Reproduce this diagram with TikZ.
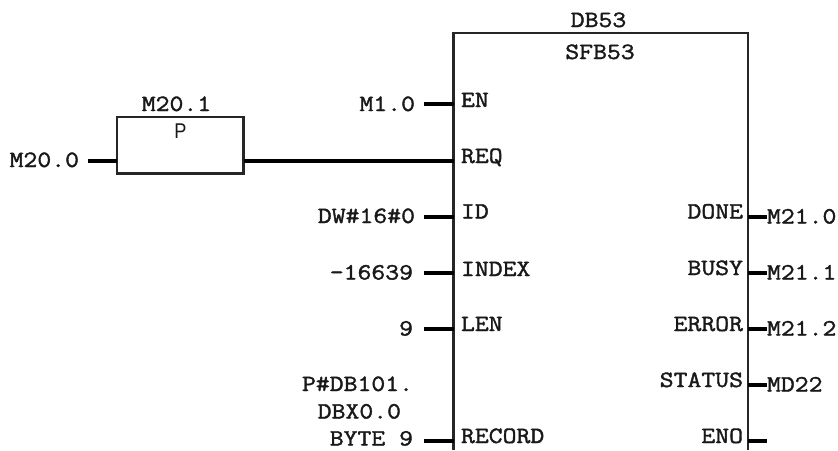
\documentclass[tikz,border=0pt]{standalone}
\usepackage{fontspec}
\newfontfamily\plcfont[FakeStretch=1.155,FakeBold=1.6]{Latin Modern Mono}
\newfontfamily\plcsans{Liberation Sans}
\tikzset{
  lbl/.style={inner sep=0pt,outer sep=0pt,font=\plcfont\fontsize{17.5}{20}\selectfont,text=black!90},
  wire/.style={line width=3pt,draw=black},
  boxline/.style={line width=1.6pt,draw=black!85},
  fbd/.style={boxline,fill=white,minimum width=94.9pt,minimum height=42.4pt,inner sep=0pt,outer sep=0pt}
}
\begin{document}
\begin{tikzpicture}[x=0.75pt,y=-0.75pt]
\useasboundingbox[fill=white] (0,0) rectangle (838,450);
% main block outline (runs off the bottom edge)
\coordinate (tl) at (453.5,33);
\coordinate (tr) at (748,33);
\coordinate (bl) at (453.5,450);
\coordinate (br) at (748,450);
\draw[boxline] (bl) -- (tl) -- (tr) -- (br);
% edge flag
\node[fbd,anchor=north west] (edge) at (117,117) {};
\node[inner sep=0pt,font=\plcsans\fontsize{16}{18}\selectfont,anchor=base,text=black!90,xscale=0.85] (ptxt) at (180.5,138.5) {P};
\node[lbl,anchor=base] (m201) at (176.5,111) {M20.1};
\node[lbl,anchor=base east] (m200) at (79,167) {M20.0};
\coordinate (m200w) at (88,160.5);
\coordinate (edgeW) at (117,160.5);
\coordinate (edgeE) at (243.5,160.5);
\draw[wire] (m200w) -- (edgeW);
% titles
\node[lbl,anchor=base] (db) at (598.5,27) {DB53};
\node[lbl,anchor=base] (sfb) at (600,59) {SFB53};
% left pins
\coordinate (pEN) at (453.5,104);
\coordinate (pREQ) at (453.5,160.5);
\coordinate (pID) at (453.5,217);
\coordinate (pINDEX) at (453.5,273);
\coordinate (pLEN) at (453.5,329);
\coordinate (pREC) at (453.5,441);
\coordinate (sEN) at (424,104);
\coordinate (sID) at (424,217);
\coordinate (sINDEX) at (424,273);
\coordinate (sLEN) at (424,329);
\coordinate (sREC) at (424,441);
\draw[wire] (sEN) -- (pEN);
\draw[wire] (edgeE) -- (pREQ);
\draw[wire] (sID) -- (pID);
\draw[wire] (sINDEX) -- (pINDEX);
\draw[wire] (sLEN) -- (pLEN);
\draw[wire] (sREC) -- (pREC);
\node[lbl,anchor=base west] (en) at (461,107) {EN};
\node[lbl,anchor=base west] (req) at (461,163) {REQ};
\node[lbl,anchor=base west] (id) at (461,218.5) {ID};
\node[lbl,anchor=base west] (index) at (461,276) {INDEX};
\node[lbl,anchor=base west] (len) at (461,331) {LEN};
\node[lbl,anchor=base west] (record) at (461,443) {RECORD};
\node[lbl,anchor=base east] (m10) at (415,111) {M1.0};
\node[lbl,anchor=base east] (dw) at (415,223) {DW\#16\#0};
\node[lbl,anchor=base east] (idx) at (413,279.5) {-16639};
\node[lbl,anchor=base east] (nine) at (413,335.5) {9};
\node[lbl,anchor=base east] (pdb) at (413,391) {P\#DB101.};
\node[lbl,anchor=base east] (dbx) at (401,418.5) {DBX0.0};
\node[lbl,anchor=base east] (byte) at (413,445.5) {BYTE 9};
% right pins
\coordinate (pDONE) at (748,217);
\coordinate (pBUSY) at (748,273);
\coordinate (pERR) at (748,329);
\coordinate (pSTAT) at (748,385);
\coordinate (pENO) at (748,441);
\coordinate (sDONE) at (767,217);
\coordinate (sBUSY) at (767,273);
\coordinate (sERR) at (767,329);
\coordinate (sSTAT) at (767,385);
\coordinate (sENO) at (767,441);
\draw[wire] (pDONE) -- (sDONE);
\draw[wire] (pBUSY) -- (sBUSY);
\draw[wire] (pERR) -- (sERR);
\draw[wire] (pSTAT) -- (sSTAT);
\draw[wire] (pENO) -- (sENO);
\node[lbl,anchor=base east] (done) at (743,218.5) {DONE};
\node[lbl,anchor=base east] (busy) at (743,275) {BUSY};
\node[lbl,anchor=base east] (error) at (743,331) {ERROR};
\node[lbl,anchor=base east] (status) at (743,387) {STATUS};
\node[lbl,anchor=base east] (eno) at (743,443) {ENO};
\node[lbl,anchor=base west] (m210) at (767,223.5) {M21.0};
\node[lbl,anchor=base west] (m211) at (767,279.5) {M21.1};
\node[lbl,anchor=base west] (m212) at (767,335.5) {M21.2};
\node[lbl,anchor=base west] (md) at (767,391.5) {MD22};
\end{tikzpicture}
\end{document}
